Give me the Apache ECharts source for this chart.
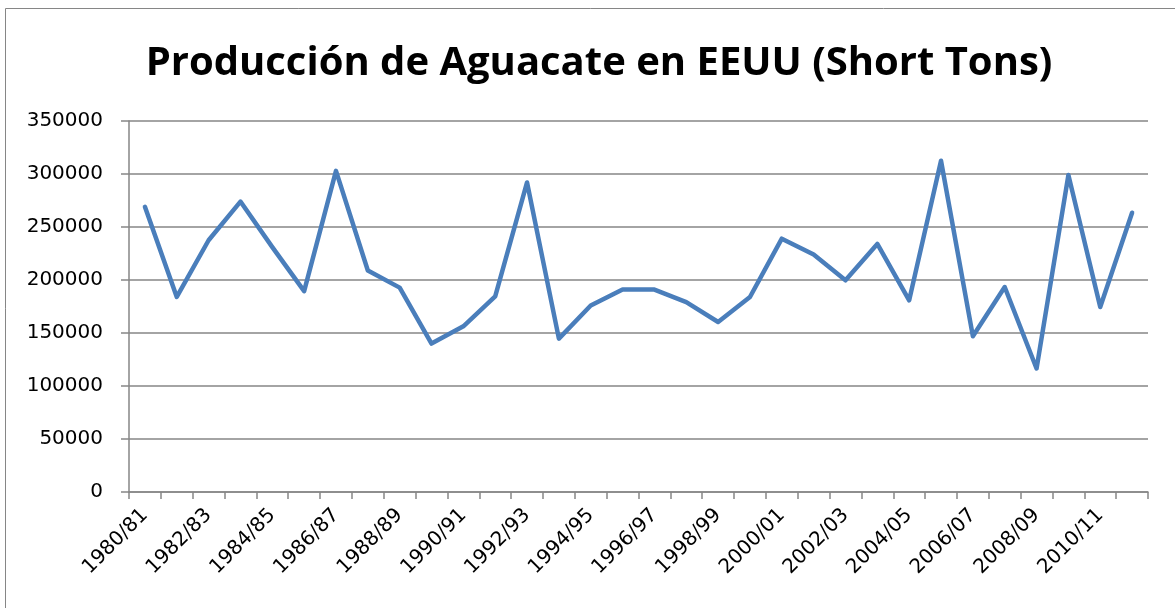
<!DOCTYPE html>
<html>
<head>
<meta charset="utf-8">
<script src="https://cdn.jsdelivr.net/npm/echarts@6/dist/echarts.min.js"></script>
<style>
  html, body { margin: 0; padding: 0; background: #fff; }
  #chart { width: 1175px; height: 608px; }
</style>
</head>
<body>
<div id="chart"></div>
<script>
// campañas 1980/81 - 2011/12
const years = [
  '1980/81', '1981/82', '1982/83', '1983/84', '1984/85', '1985/86', '1986/87', '1987/88',
  '1988/89', '1989/90', '1990/91', '1991/92', '1992/93', '1993/94', '1994/95', '1995/96',
  '1996/97', '1997/98', '1998/99', '1999/00', '2000/01', '2001/02', '2002/03', '2003/04',
  '2004/05', '2005/06', '2006/07', '2007/08', '2008/09', '2009/10', '2010/11', '2011/12'
];
// producción en short tons
const produccion = [
  269000, 184000, 237500, 274000, 231000, 189500, 303000, 209000,
  192800, 140000, 156300, 184600, 292000, 144700, 176000, 191000,
  191000, 179200, 160400, 184000, 239000, 224000, 199700, 234000,
  180800, 312500, 147000, 193400, 116500, 299000, 174500, 263500
];
const yTicks = [0, 50000, 100000, 150000, 200000, 250000, 300000, 350000];

const myChart = echarts.init(document.getElementById('chart'));
const gris = '#868686';
const option = {
  animation: false,
  title: {
    text: 'Producción de Aguacate en EEUU (Short Tons)',
    left: 594,
    textAlign: 'center',
    top: 39,
    textStyle: {
      fontFamily: 'Open Sans',
      fontWeight: 'bold',
      fontSize: 40,
      color: '#000'
    }
  },
  graphic: [{
    type: 'rect',
    shape: { x: 5.5, y: 8.5, width: 1200, height: 700 },
    style: { fill: 'none', stroke: gris, lineWidth: 1 },
    silent: true
  }],
  grid: { left: 129, right: 27, top: 121, bottom: 116 },
  xAxis: {
    type: 'category',
    data: years,
    boundaryGap: true,
    axisLine: { lineStyle: { color: gris, width: 1.5 } },
    axisTick: { show: true, length: 7, interval: 0, lineStyle: { color: gris, width: 1.5 } },
    axisLabel: {
      interval: 1,
      rotate: 45,
      margin: 20,
      fontFamily: 'DejaVu Sans',
      fontSize: 20,
      color: '#000'
    },
    splitLine: { show: false }
  },
  yAxis: {
    type: 'value',
    min: yTicks[0],
    max: yTicks[yTicks.length - 1],
    interval: 50000,
    axisLine: { show: true, lineStyle: { color: gris, width: 1.5 } },
    axisTick: { show: true, length: 8, lineStyle: { color: gris, width: 1.5 } },
    axisLabel: {
      margin: 26,
      fontFamily: 'DejaVu Sans',
      fontSize: 20,
      color: '#000',
      formatter: (v) => String(v)
    },
    splitLine: { show: true, lineStyle: { color: gris, width: 1.5 } }
  },
  series: [{
    type: 'line',
    data: produccion,
    showSymbol: false,
    symbol: 'none',
    lineStyle: { color: '#4a7ebb', width: 4.5, join: 'round', cap: 'round' }
  }]
};
myChart.setOption(option);
</script>
</body>
</html>
